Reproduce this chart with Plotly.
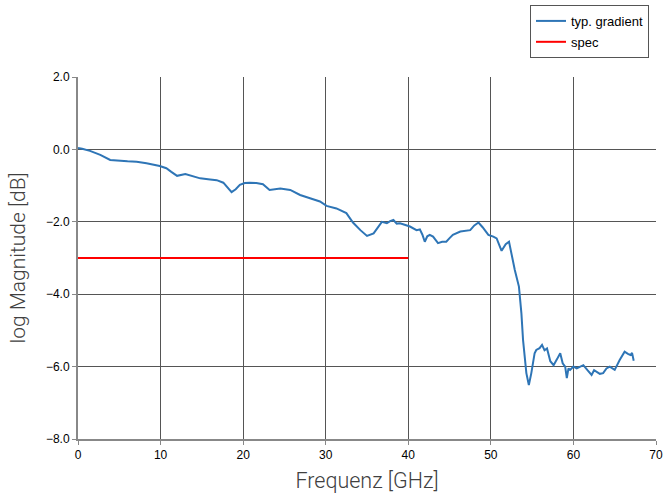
import plotly.graph_objects as go

freq = [0, 0.5, 1.45, 2.7, 3.9, 5, 6, 7.1, 8.3, 9.9, 10.7, 11.3, 12, 13, 14, 14.8, 16, 16.8, 17.6,
        18.2, 18.6, 19.1, 19.6, 20.2, 20.8, 21.6, 22.4, 23.2, 24.5, 25.7, 26.9, 28.1, 29.3, 30.1,
        31.3, 32.5, 33.3, 34.2, 35.0, 35.8, 36.3, 36.8, 37.4, 37.8, 38.2, 38.6, 39.0, 39.6, 40.2,
        41.0, 41.4, 41.7, 42.0, 42.3, 42.6, 43.0, 43.3, 43.6, 44.1, 44.6, 45.0, 45.4, 46.3, 46.9,
        47.5, 48.0, 48.5, 49.0, 49.7, 50.3, 50.7, 51.3, 51.8, 52.2, 52.5, 52.9, 53.4, 53.7, 53.9,
        54.1, 54.3, 54.6, 54.9, 55.3, 55.5, 55.9, 56.2, 56.5, 56.8, 57.2, 57.6, 58.0, 58.4, 58.7,
        59.0, 59.2, 59.4, 59.6, 60.0, 60.4, 60.8, 61.2, 61.7, 62.2, 62.5, 62.8, 63.2, 63.6, 64.0,
        64.4, 65.0, 65.6, 66.2, 66.6, 66.9, 67.1, 67.3]
gradient = [0.04, 0.02, -0.04, -0.15, -0.29, -0.32, -0.33, -0.34, -0.38, -0.46, -0.52, -0.62, -0.73,
            -0.68, -0.75, -0.80, -0.83, -0.85, -0.92, -1.08, -1.18, -1.10, -0.98, -0.93, -0.92,
            -0.93, -0.96, -1.12, -1.08, -1.12, -1.26, -1.35, -1.44, -1.56, -1.63, -1.76, -2.02,
            -2.23, -2.39, -2.32, -2.15, -2.00, -2.04, -1.98, -1.95, -2.05, -2.04, -2.08, -2.13,
            -2.23, -2.21, -2.35, -2.55, -2.40, -2.36, -2.41, -2.50, -2.59, -2.55, -2.55, -2.45,
            -2.36, -2.27, -2.25, -2.23, -2.10, -2.02, -2.15, -2.36, -2.41, -2.46, -2.80, -2.62,
            -2.55, -2.90, -3.33, -3.79, -4.53, -5.27, -5.80, -6.18, -6.51, -6.18, -5.63, -5.54,
            -5.49, -5.40, -5.55, -5.50, -5.85, -5.96, -5.80, -5.63, -5.91, -6.00, -6.32, -6.05,
            -6.09, -6.00, -6.05, -6.00, -5.96, -6.10, -6.23, -6.10, -6.14, -6.20, -6.18, -6.05,
            -6.00, -6.09, -5.82, -5.59, -5.65, -5.68, -5.62, -5.84]

spec_freq = [0, 40]
spec_val = [-3.0, -3.0]

fig = go.Figure()
fig.add_trace(go.Scatter(x=freq, y=gradient, mode="lines", name="typ. gradient", legendgroup="a",
                         line=dict(color="#2E75B6", width=2)))
fig.add_trace(go.Scatter(x=spec_freq, y=spec_val, mode="lines", name="spec", legendgroup="b",
                         line=dict(color="#FF0000", width=2)))

fig.update_layout(
    width=665, height=493,
    margin=dict(l=78, r=9, t=77, b=54, pad=0, autoexpand=False),
    paper_bgcolor="white", plot_bgcolor="white",
    font=dict(family="Liberation Sans, Arial, sans-serif", size=12, color="#000"),
    legend=dict(x=0.782, y=1.199, xanchor="left", yanchor="top",
                bordercolor="#555", borderwidth=1, bgcolor="white",
                font=dict(size=13), itemwidth=30, traceorder="grouped", tracegroupgap=1),
    showlegend=True,
)
fig.update_xaxes(range=[0, 70], dtick=10, tick0=0, showgrid=True, gridcolor="#555", gridwidth=1,
                 showline=True, linecolor="#888", linewidth=2, ticks="outside", ticklen=4,
                 tickcolor="#888", zeroline=False, automargin=False,
                 title=dict(text="Frequenz [GHz]", font=dict(family="Roboto", size=21.5, color="#404040", weight=300), standoff=12),
                 tickfont=dict(size=12))
fig.update_yaxes(range=[-8, 2], dtick=2, tick0=0, tickformat=".1f", showgrid=True, gridcolor="#555",
                 gridwidth=1, showline=True, linecolor="#888", linewidth=2, ticks="outside",
                 ticklen=4, tickcolor="#888", zeroline=False, automargin=False,
                 title=dict(text="log Magnitude [dB]", font=dict(family="Roboto", size=21, color="#404040", weight=300), standoff=15),
                 tickfont=dict(size=12))

fig.write_html("out.html")
